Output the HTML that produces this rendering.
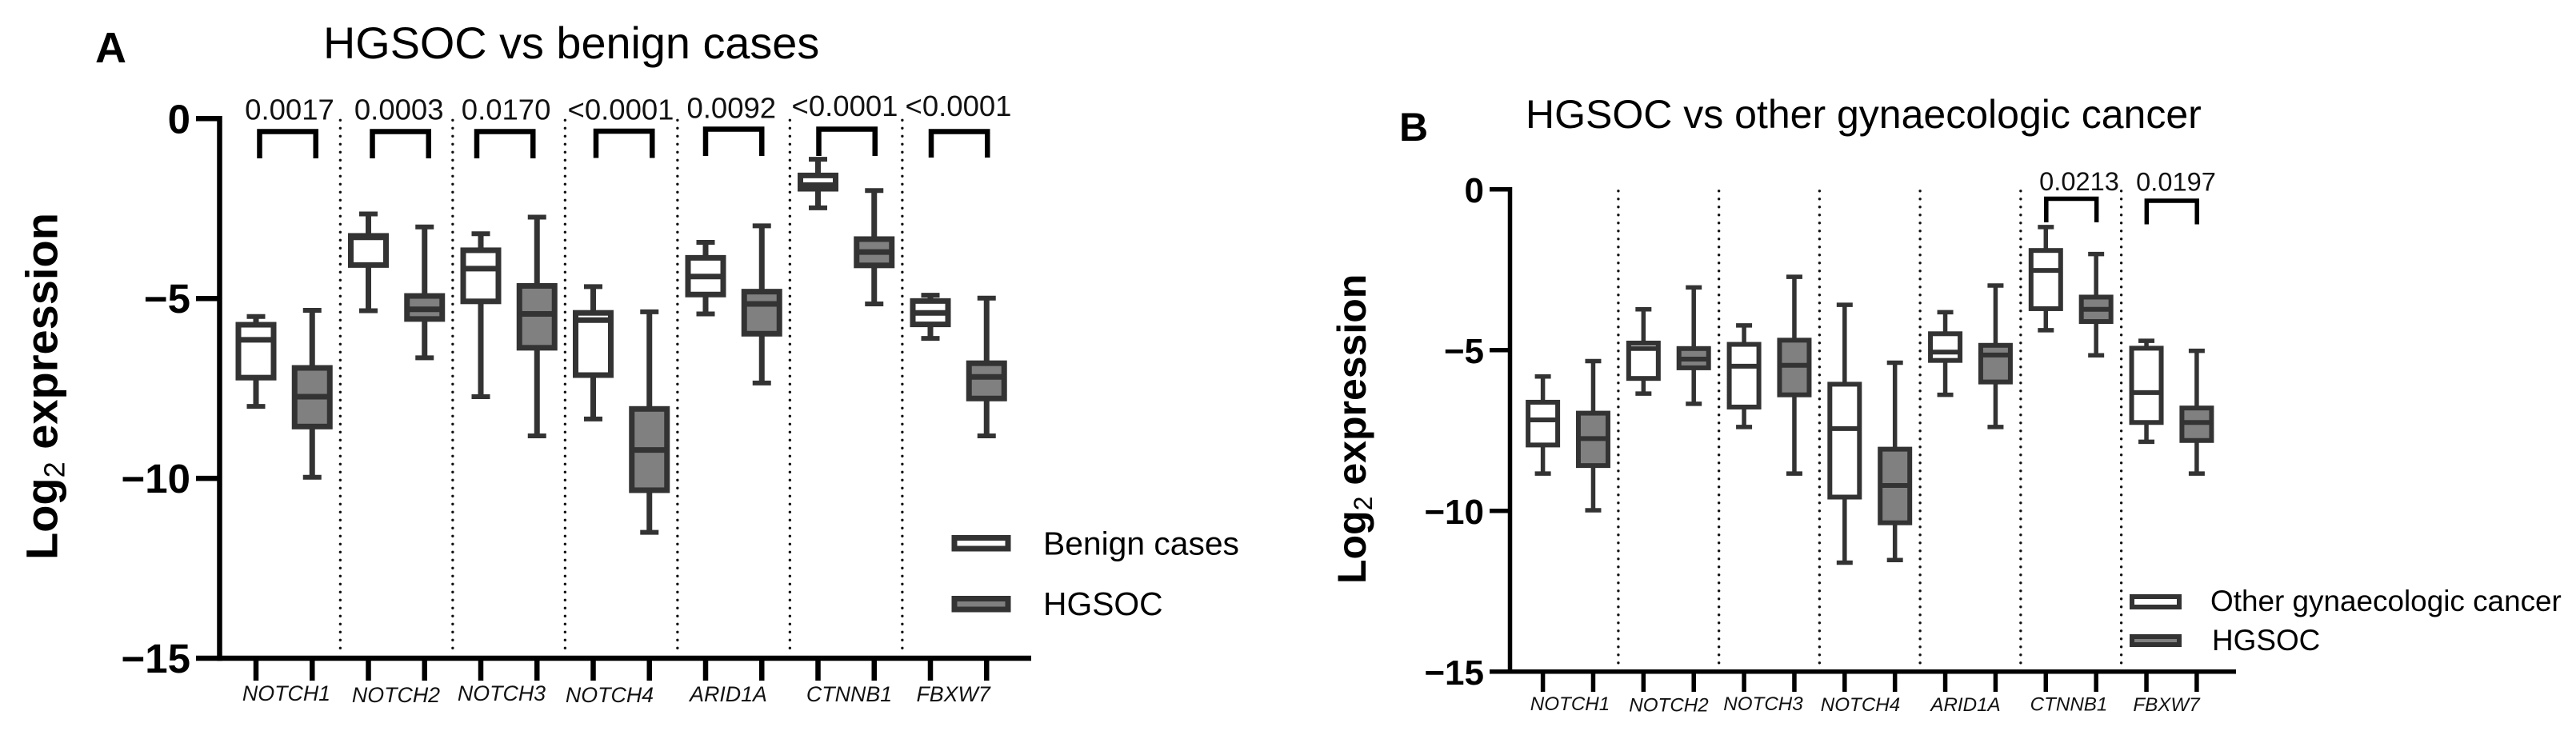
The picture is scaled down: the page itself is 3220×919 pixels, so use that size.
<!DOCTYPE html>
<html lang="en">
<head>
<meta charset="utf-8">
<title>HGSOC expression box plots</title>
<style>
html,body{margin:0;padding:0;background:#fff;width:3220px;height:919px;overflow:hidden}
svg{display:block;font-family:"Liberation Sans",Arial,sans-serif}
</style>
</head>
<body>
<svg id="figure" width="3220" height="919" viewBox="0 0 3220 919" xmlns="http://www.w3.org/2000/svg">
  <rect width="3220" height="919" fill="#fff"/>

  <text x="119" y="78" font-size="54" font-weight="700">A</text>
  <text x="404" y="73" font-size="55.8">HGSOC vs benign cases</text>
  <text transform="translate(71.5,700) rotate(-90)" font-size="56" font-weight="700">Log<tspan font-size="36" font-weight="400" dy="9">2</tspan><tspan dy="-9"> expression</tspan></text>
  <g id="panel-a"></g>
  <g>
    <rect x="1193" y="672.5" width="67" height="13.5" fill="#fff" stroke="#333" stroke-width="7"/>
    <text x="1304" y="693.5" font-size="40.8">Benign cases</text>
    <rect x="1193" y="748.5" width="67" height="13.5" fill="#808080" stroke="#333" stroke-width="7"/>
    <text x="1304" y="769" font-size="40.8">HGSOC</text>
  </g>

  <text x="1749" y="176" font-size="50" font-weight="700">B</text>
  <text x="1907" y="160" font-size="50">HGSOC vs other gynaecologic cancer</text>
  <text transform="translate(1707,730) rotate(-90)" font-size="50" font-weight="700">Log<tspan font-size="32" font-weight="400" dy="8">2</tspan><tspan dy="-8"> expression</tspan></text>
  <g id="panel-b"></g>
  <g>
    <rect x="2665" y="746" width="59" height="13" fill="#fff" stroke="#333" stroke-width="6"/>
    <text x="2763" y="764" font-size="36.9">Other gynaecologic cancer</text>
    <rect x="2665" y="796" width="59" height="10" fill="#808080" stroke="#333" stroke-width="6"/>
    <text x="2765" y="813" font-size="36.9">HGSOC</text>
  </g>
</svg>

<script>
const categories = ['NOTCH1','NOTCH2','NOTCH3','NOTCH4','ARID1A','CTNNB1','FBXW7'];
const yTicks = [0,-5,-10,-15];
const yTickLabels = ['0','\u22125','\u221210','\u221215'];

const benignMax    = [-5.50,-2.65,-3.20,-4.67,-3.44,-1.13,-4.91];
const benignQ3     = [-5.73,-3.26,-3.66,-5.40,-3.87,-1.58,-5.07];
const benignMedian = [-6.15,-3.30,-4.17,-5.60,-4.39,-1.85,-5.40];
const benignQ1     = [-7.20,-4.07,-5.08,-7.13,-4.89,-1.95,-5.72];
const benignMin    = [-8.00,-5.34,-7.73,-8.35,-5.43,-2.48,-6.11];

const hgsocAMax    = [-5.33,-3.01,-2.74,-5.37,-2.98,-2.00,-4.99];
const hgsocAQ3     = [-6.93,-4.93,-4.65,-8.07,-4.81,-3.35,-6.80];
const hgsocAMedian = [-7.73,-5.30,-5.43,-9.21,-5.15,-3.71,-7.18];
const hgsocAQ1     = [-8.56,-5.57,-6.37,-10.33,-5.98,-4.08,-7.78];
const hgsocAMin    = [-9.97,-6.65,-8.82,-11.50,-7.35,-5.15,-8.82];

const otherMax     = [-5.82,-3.73,-4.23,-3.59,-3.82,-1.17,-4.71];
const otherQ3      = [-6.62,-4.78,-4.82,-6.06,-4.49,-1.90,-4.94];
const otherMedian  = [-7.17,-4.95,-5.50,-7.44,-5.06,-2.52,-6.32];
const otherQ1      = [-7.95,-5.88,-6.77,-9.57,-5.32,-3.71,-7.25];
const otherMin     = [-8.84,-6.35,-7.39,-11.61,-6.39,-4.38,-7.85];

const hgsocBMax    = [-5.34,-3.05,-2.72,-5.39,-2.99,-2.01,-5.02];
const hgsocBQ3     = [-6.96,-4.95,-4.69,-8.08,-4.85,-3.35,-6.80];
const hgsocBMedian = [-7.75,-5.28,-5.47,-9.21,-5.15,-3.73,-7.25];
const hgsocBQ1     = [-8.59,-5.55,-6.39,-10.37,-5.99,-4.11,-7.81];
const hgsocBMin    = [-9.98,-6.67,-8.84,-11.53,-7.39,-5.16,-8.84];

const pValuesA = ['0.0017','0.0003','0.0170','<0.0001','0.0092','<0.0001','<0.0001'];
const pValuesB = ['','','','','','0.0213','0.0197'];

const SVGNS = 'http://www.w3.org/2000/svg';
function make(parent, tag, attrs) {
  const el = document.createElementNS(SVGNS, tag);
  for (const k in attrs) el.setAttribute(k, attrs[k]);
  
  parent.appendChild(el);
  return el;
}

function drawPanel(root, L, seriesA, seriesB, pValues) {
  const pxPerUnit = (L.bottom - L.top) / (yTicks[0] - yTicks[yTicks.length - 1]);
  const yScale = v => L.top + (yTicks[0] - v) * pxPerUnit;
  const xScale = (cat, ser) => L.x0 + L.step * (cat * 2 + ser);

  // category separators
  for (let i = 0; i < categories.length - 1; i++) {
    const sep = make(root, 'line', {
      x1: (xScale(i, 1) + xScale(i + 1, 0)) / 2, x2: (xScale(i, 1) + xScale(i + 1, 0)) / 2,
      y1: L.top + 2, y2: L.bottom - 4, stroke: '#111', 'stroke-width': 3.4,
      'stroke-linecap': 'round', 'stroke-dasharray': '0 ' + L.dot
    });
    
  }

  // boxes
  [seriesA, seriesB].forEach((s, ser) => {
    categories.forEach((cat, i) => {
      const cx = xScale(i, ser);
      const g = make(root, 'g', {});
      
      const whisker = make(g, 'line', { x1: cx, x2: cx, y1: yScale(s.max[i]), y2: yScale(s.min[i]), stroke: '#333', 'stroke-width': L.whisker });
      
      const capTop = make(g, 'line', { x1: cx - L.cap / 2, x2: cx + L.cap / 2, y1: yScale(s.max[i]), y2: yScale(s.max[i]), stroke: '#333', 'stroke-width': L.capH });
      
      const capBottom = make(g, 'line', { x1: cx - L.cap / 2, x2: cx + L.cap / 2, y1: yScale(s.min[i]), y2: yScale(s.min[i]), stroke: '#333', 'stroke-width': L.capH });
      
      const box = make(g, 'rect', {
        x: cx - L.boxW / 2, y: yScale(s.q3[i]), width: L.boxW, height: yScale(s.q1[i]) - yScale(s.q3[i]),
        fill: s.fill, stroke: '#333', 'stroke-width': L.boxStroke
      });
      
      const median = make(g, 'line', { x1: cx - L.boxW / 2, x2: cx + L.boxW / 2, y1: yScale(s.median[i]), y2: yScale(s.median[i]), stroke: '#333', 'stroke-width': L.boxStroke });
      
    });
  });

  // y axis
  const yLine = make(root, 'line', { x1: L.axisX, x2: L.axisX, y1: L.top - L.axisW / 2, y2: L.bottom + L.axisW / 2, stroke: '#000', 'stroke-width': L.axisW });
  
  yTicks.forEach((t, i) => {
    const tick = make(root, 'line', { x1: L.tickLeft, x2: L.axisX, y1: yScale(t), y2: yScale(t), stroke: '#000', 'stroke-width': L.axisW });
    
    const label = make(root, 'text', { x: L.tickTextX, y: yScale(t) + L.tickTextDy, 'text-anchor': 'end', 'font-size': L.tickFont, 'font-weight': 700 });
    
    label.textContent = yTickLabels[i];
  });

  // x axis
  const xLine = make(root, 'line', { x1: L.axisX, x2: L.xEnd, y1: L.bottom, y2: L.bottom, stroke: '#000', 'stroke-width': L.axisW });
  
  categories.forEach((cat, i) => {
    [0, 1].forEach(ser => {
      const tick = make(root, 'line', { x1: xScale(i, ser), x2: xScale(i, ser), y1: L.bottom, y2: L.tickBottom, stroke: '#000', 'stroke-width': L.axisW });
      
    });
    const label = make(root, 'text', { x: L.labelX[i], y: L.labelY[i], 'text-anchor': 'middle', 'font-size': L.labelFont, 'font-style': 'italic', fill: '#111' });
    
    label.textContent = cat;
  });

  // significance brackets
  pValues.forEach((p, i) => {
    if (!p) return;
    const b = L.brackets[i];
    const x1 = xScale(i, 0) + b[0], x2 = xScale(i, 1) + b[0];
    const bracket = make(root, 'path', { d: `M${x1} ${b[2]}V${b[1]}H${x2}V${b[2]}`, fill: 'none', stroke: '#000', 'stroke-width': L.bracketW, 'stroke-linejoin': 'miter' });
    
    const label = make(root, 'text', { x: b[3], y: b[4], 'text-anchor': 'middle', 'font-size': L.pFont, fill: '#111' });
    
    label.textContent = p;
  });
}

drawPanel(document.getElementById('panel-a'), {
  top: 148.3, bottom: 823, x0: 320, step: 70.25, axisX: 274.5, axisW: 6.5, tickLeft: 245, tickBottom: 851,
  xEnd: 1289, tickTextX: 238, tickTextDy: 18, tickFont: 51, whisker: 7, cap: 23, capH: 6, boxW: 44, boxStroke: 7, dot: 10,
  labelFont: 26.8, labelX: [358,495,627,762,910.5,1061.5,1191.6], labelY: [876,878,876,878,877,877,877],
  bracketW: 6.5, pFont: 36.5,
  brackets: [[4.5,164.5,198,362,149.5],[5,164.5,198,498.7,149.5],[-5,164.5,198,632.6,149.5],[3.5,164,197.5,776,149.5],[0,161.5,195,914.3,147.7],[1,161.5,195,1056,145],[1,164.5,197,1198,145]]
}, {
  max: benignMax, q3: benignQ3, median: benignMedian, q1: benignQ1, min: benignMin, fill: '#fff'
}, {
  max: hgsocAMax, q3: hgsocAQ3, median: hgsocAMedian, q1: hgsocAQ1, min: hgsocAMin, fill: '#808080'
}, pValuesA);

drawPanel(document.getElementById('panel-b'), {
  top: 236.8, bottom: 839.8, x0: 1928.6, step: 62.87, axisX: 1887.5, axisW: 5.5, tickLeft: 1862, tickBottom: 865,
  xEnd: 2795, tickTextX: 1855, tickTextDy: 16, tickFont: 44, whisker: 5.5, cap: 20, capH: 5.5, boxW: 37, boxStroke: 6, dot: 10,
  labelFont: 24.2, labelX: [1962.5,2086,2204,2325.5,2457,2586,2708], labelY: [888,889.5,888,889,889,888.5,889],
  bracketW: 5.5, pFont: 32.6,
  brackets: [[0,0,0,0,0],[0,0,0,0,0],[0,0,0,0,0],[0,0,0,0,0],[0,0,0,0,0],[0.5,248.5,278,2599,238],[0.3,251,280.5,2720,238.5]]
}, {
  max: otherMax, q3: otherQ3, median: otherMedian, q1: otherQ1, min: otherMin, fill: '#fff'
}, {
  max: hgsocBMax, q3: hgsocBQ3, median: hgsocBMedian, q1: hgsocBQ1, min: hgsocBMin, fill: '#808080'
}, pValuesB);
</script>
</body>
</html>
